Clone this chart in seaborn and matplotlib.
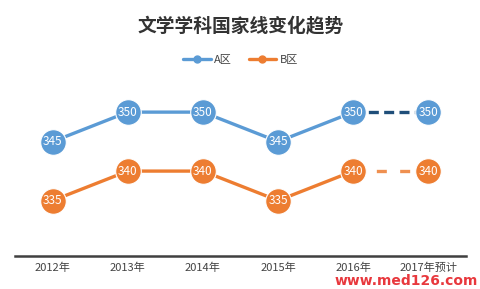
import matplotlib
matplotlib.use("Agg")
import matplotlib.pyplot as plt
import seaborn as sns
import pandas as pd
from matplotlib.lines import Line2D

years = ["2012年", "2013年", "2014年", "2015年", "2016年", "2017年预计"]
a_vals = [345, 350, 350, 345, 350, 350]
b_vals = [335, 340, 340, 335, 340, 340]
series_names = ["A区", "B区"]
title = "文学学科国家线变化趋势"

sns.set_theme(style="white")
plt.rcParams['font.family'] = ['Noto Sans CJK SC', 'DejaVu Sans']

blue = "#5B9BD5"
orange = "#ED7D31"
navy = "#1F4E79"

fig = plt.figure(figsize=(4.81, 2.89), dpi=100)
ax = fig.add_axes([15/481, 1 - 256/289, 451/481, 171/289])

x = list(range(len(years)))
df = pd.DataFrame({"x": x * 2, "v": a_vals + b_vals,
                   "s": [series_names[0]] * 6 + [series_names[1]] * 6})
solid = df[df["x"] <= 4]
sns.lineplot(data=solid, x="x", y="v", hue="s", palette=[blue, orange],
             linewidth=2.4, legend=False, ax=ax)

# forecast segments
ax.plot(x[4:], a_vals[4:], color=navy, linewidth=2.4, linestyle=(0, (3, 1.6)))
ax.plot(x[4:], b_vals[4:], color=orange, linewidth=2.4, linestyle=(0, (3, 4)),
        alpha=0.85)

for vals, c in [(a_vals, blue), (b_vals, orange)]:
    ax.scatter(x, vals, s=340, color=c, edgecolor="white", linewidth=0.8, zorder=5)
    for xi, v in zip(x, vals):
        ax.text(xi, v, str(v), ha="center", va="center", color="white",
                fontsize=8.5, zorder=6)

ax.set_xlim(-0.5, 5.5)
ax.set_ylim(325.6, 354.6)
ax.set_xticks(x)
ax.set_xticklabels(years, fontsize=8, color="#444444")
ax.set_yticks([])
ax.set_xlabel("")
ax.set_ylabel("")
for sp in ["top", "right", "left"]:
    ax.spines[sp].set_visible(False)
ax.spines["bottom"].set_color("#404040")
ax.spines["bottom"].set_linewidth(1.8)
ax.tick_params(axis="x", length=0, pad=5)

fig.text(0.5, 1 - 26/289, title, ha="center", va="center", fontsize=13.5,
         fontweight="bold", color="#333333")

handles = [Line2D([0], [0], color=blue, lw=2.4, marker="o", markersize=5),
           Line2D([0], [0], color=orange, lw=2.4, marker="o", markersize=5)]
fig.legend(handles, series_names, loc="center", bbox_to_anchor=(0.5, 1 - 60/289),
           ncol=2, frameon=False, fontsize=8, handlelength=2.5,
           columnspacing=1.5, handletextpad=0.3, labelcolor="#444444")

fig.text(1 - 3/481, 1 - 281/289, "www.med126.com", ha="right", va="center",
         fontsize=10, fontweight="bold", color="#E8383D", family="DejaVu Sans")

fig.savefig("out.png", dpi=100)
